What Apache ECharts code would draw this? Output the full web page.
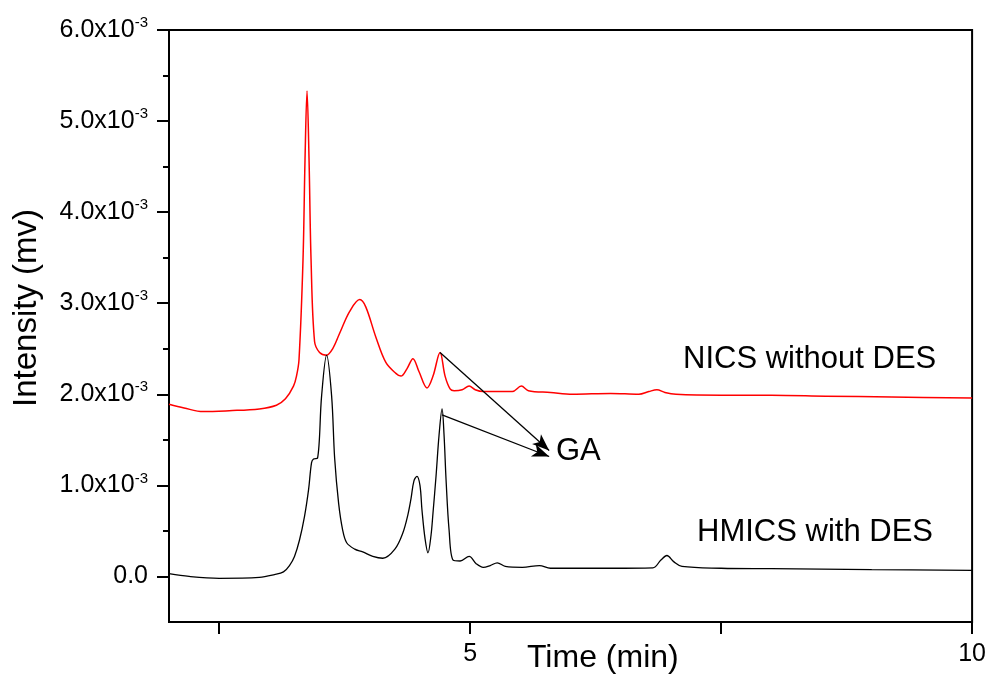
<!DOCTYPE html>
<html>
<head>
<meta charset="utf-8">
<script src="https://cdn.jsdelivr.net/npm/echarts@6/dist/echarts.min.js"></script>
<style>
  html, body { margin: 0; padding: 0; background: #fff; }
  #chart { width: 989px; height: 679px; }
</style>
</head>
<body>
<div id="chart"></div>
<script>
// intensity values are in units of 1e-3 mv
var nicsTime = [2.0, 2.15, 2.34, 2.6, 2.9, 3.07, 3.16, 3.24, 3.27, 3.295, 3.335, 3.355, 3.375, 3.395, 3.415, 3.45, 3.5, 3.57,
    3.63, 3.7, 3.8, 3.9, 3.96, 4.06, 4.16, 4.26, 4.31, 4.37, 4.43, 4.49, 4.57, 4.63, 4.7, 4.75, 4.8, 4.84, 4.92, 4.99,
    5.05, 5.13, 5.3, 5.42, 5.51, 5.58, 5.8, 6.02, 6.4, 6.68, 6.78, 6.86, 6.94, 7.05, 7.5, 8.0, 8.54, 9.2, 10.0];
var nicsValue = [1.89, 1.85, 1.81, 1.82, 1.84, 1.88, 1.95, 2.09, 2.2, 2.38, 3.48, 4.58, 5.33, 4.58, 3.48, 2.58, 2.46, 2.43,
    2.5, 2.67, 2.91, 3.04, 2.96, 2.63, 2.35, 2.23, 2.2, 2.28, 2.39, 2.25, 2.07, 2.2, 2.46, 2.2, 2.06, 2.04, 2.05, 2.09,
    2.05, 2.03, 2.03, 2.03, 2.09, 2.04, 2.02, 2.0, 2.01, 2.0, 2.03, 2.05, 2.02, 2.0, 1.99, 1.99, 1.98, 1.97, 1.96];

var hmicsTime = [2.0, 2.2, 2.5, 2.9, 3.05, 3.14, 3.2, 3.25, 3.3, 3.35, 3.39, 3.42, 3.44, 3.48, 3.52, 3.57, 3.62, 3.65,
    3.69, 3.73, 3.77, 3.85, 3.93, 4.03, 4.13, 4.25, 4.33, 4.38, 4.41, 4.44, 4.47, 4.5, 4.52, 4.55, 4.58, 4.61, 4.63,
    4.66, 4.69, 4.72, 4.74, 4.76, 4.79, 4.83, 4.9, 4.99, 5.06, 5.13, 5.2, 5.27, 5.35, 5.52, 5.69, 5.8, 6.02, 6.4,
    6.82, 6.9, 6.96, 7.03, 7.11, 7.5, 8.0, 8.5, 9.0, 10.0];
var hmicsValue = [0.03, 0.0, -0.02, -0.01, 0.02, 0.05, 0.12, 0.22, 0.4, 0.66, 0.95, 1.25, 1.29, 1.3, 1.98, 2.43, 1.98, 1.3,
    0.8, 0.51, 0.37, 0.3, 0.27, 0.22, 0.2, 0.3, 0.48, 0.68, 0.85, 1.05, 1.1, 1.0, 0.73, 0.42, 0.26, 0.45, 0.7,
    1.1, 1.55, 1.84, 1.55, 1.06, 0.51, 0.18, 0.17, 0.22, 0.14, 0.1, 0.12, 0.15, 0.11, 0.1, 0.12, 0.09, 0.09, 0.09,
    0.095, 0.18, 0.23, 0.16, 0.11, 0.09, 0.085, 0.08, 0.075, 0.066];

var xTicks = [2.5, 5, 7.5, 10];
var xLabels = [5, 10];
var yMajor = [0, 1, 2, 3, 4, 5, 6];
var yMinor = [0.5, 1.5, 2.5, 3.5, 4.5, 5.5];

// GA arrows: [from, to] in (time, intensity)
var gaArrows = [
    [[4.70, 2.46], [5.787, 1.383]],
    [[4.72, 1.775], [5.787, 1.317]]
];

function pairs(xs, ys) {
    return xs.map(function (x, i) { return [x, ys[i]]; });
}

var font = 'Liberation Sans, Arial, sans-serif';
var myChart = echarts.init(document.getElementById('chart'));

var option = {
    animation: false,
    backgroundColor: '#fff',
    grid: {
        left: 169, right: 16, top: 30, bottom: 57,
        show: true, borderColor: '#000', borderWidth: 2
    },
    xAxis: {
        type: 'value', min: 2, max: 10,
        axisLine: { show: true, onZero: false, lineStyle: { color: '#000', width: 2 } },
        axisTick: { show: true, length: 12, customValues: xTicks, lineStyle: { color: '#000', width: 2 } },
        axisLabel: {
            customValues: xLabels, margin: 20, color: '#000', fontSize: 25, fontFamily: font
        },
        splitLine: { show: false }
    },
    yAxis: [{
        type: 'value', min: -0.5, max: 6,
        axisLine: { show: true, onZero: false, lineStyle: { color: '#000', width: 2 } },
        axisTick: { show: true, length: 12, customValues: yMajor, lineStyle: { color: '#000', width: 2 } },
        axisLabel: {
            customValues: yMajor, margin: 21, color: '#000', fontFamily: font,
            formatter: function (v) {
                if (v === 0) return '{m|0.0}';
                return '{m|' + v.toFixed(1) + 'x10}{s|-3}';
            },
            rich: {
                m: { fontSize: 25, fontFamily: font, color: '#000' },
                s: { fontSize: 15, fontFamily: font, color: '#000', padding: [0, 0, 14, 0] }
            }
        },
        splitLine: { show: false }
    }, {
        type: 'value', min: -0.5, max: 6, position: 'left',
        axisLine: { show: false, onZero: false },
        axisTick: { show: true, length: 6, customValues: yMinor, lineStyle: { color: '#000', width: 2 } },
        axisLabel: { show: false },
        splitLine: { show: false }
    }],
    series: [{
        name: 'NICS without DES',
        type: 'line',
        data: pairs(nicsTime, nicsValue),
        smooth: 0.35,
        showSymbol: false,
        lineStyle: { color: '#ff0000', width: 1.5 }
    }, {
        name: 'HMICS with DES',
        type: 'line',
        data: pairs(hmicsTime, hmicsValue),
        smooth: 0.35,
        showSymbol: false,
        lineStyle: { color: '#000', width: 1.3 },
        markLine: {
            silent: true,
            symbol: ['none', 'arrow'],
            symbolSize: [10, 17],
            label: { show: false },
            lineStyle: { color: '#000', width: 1.3, type: 'solid' },
            data: gaArrows.map(function (a) {
                return [{ coord: a[0] }, { coord: a[1] }];
            })
        }
    }],
    graphic: [
        { type: 'text', left: 683, top: 344, style: { text: 'NICS without DES', font: '31px ' + font, fill: '#000' } },
        { type: 'text', left: 697, top: 517, style: { text: 'HMICS with DES', font: '31px ' + font, fill: '#000' } },
        { type: 'text', left: 556, top: 436, style: { text: 'GA', font: '31px ' + font, fill: '#000' } },
        { type: 'text', left: 527, top: 642, style: { text: 'Time (min)', font: '32px ' + font, fill: '#000' } },
        {
            type: 'text', x: 27, y: 308, rotation: Math.PI / 2,
            style: { text: 'Intensity (mv)', font: '33px ' + font, fill: '#000', align: 'center', verticalAlign: 'middle' }
        }
    ]
};

myChart.setOption(option);
window.addEventListener('resize', function () {
    myChart.resize();
});
</script>
</body>
</html>
